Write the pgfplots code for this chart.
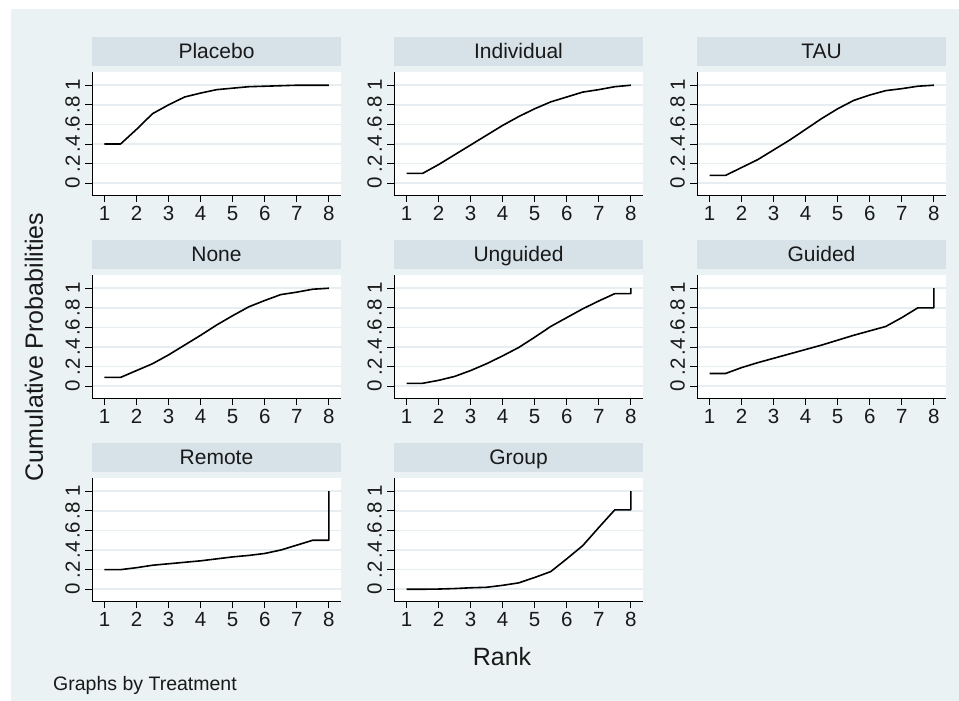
\documentclass[border=0pt]{standalone}
\usepackage{fontspec}
\setmainfont{Liberation Sans}
\usepackage{pgfplots}
\pgfplotsset{compat=1.18}
\definecolor{bgc}{RGB}{234,242,243}
\definecolor{barc}{RGB}{214,226,232}
\definecolor{gridc}{RGB}{230,238,241}
\pgfplotsset{panel/.style={
  scale only axis, width=249bp, height=123bp,
  xmin=0.61, xmax=8.38, ymin=-0.12, ymax=1.135,
  axis x line=bottom, axis y line=left,
  axis line style={-, black, line width=1bp},
  axis background/.style={fill=white},
  tick align=outside, major tick length=7bp,
  tick style={black, line width=1bp},
  xtick={1,2,3,4,5,6,7,8},
  ytick={0,0.2,0.4,0.6,0.8,1}, yticklabels={0,.2,.4,.6,.8,1},
  ymajorgrids, grid style={gridc, line width=1.6bp},
  /pgf/number format/assume math mode=true,
  tick label style={font=\fontsize{20.5bp}{24bp}\selectfont, text=black!90},
  yticklabel style={rotate=90, anchor=south, inner xsep=0bp, inner ysep=5bp},
  xticklabel style={anchor=north, inner xsep=0bp, inner ysep=4bp},
  title style={at={(0.5,1)}, anchor=south, fill=barc, minimum width=249bp,
    minimum height=29bp, inner sep=0pt, text height=15bp, text depth=0pt,
    font=\fontsize{21bp}{25bp}\selectfont, text=black!90},
  anchor=north west,
  cycle list={{black, no marks}},
  every axis plot/.append style={line width=1.6bp, line join=round},
}}
\begin{document}
\begin{tikzpicture}
\fill[white] (0bp,0bp) rectangle (959bp,-701bp);
\fill[bgc] (11bp,-9bp) rectangle (959bp,-701bp);
% Row 1
\begin{axis}[panel, at={(92bp,-72bp)}, title={Placebo}]
\addplot coordinates {(1,0.40) (1.5,0.40) (2,0.55) (2.5,0.71) (3,0.80) (3.5,0.88) (4,0.92) (4.5,0.955) (5,0.97) (5.5,0.985) (6,0.99) (6.5,0.995) (7,1) (7.5,1) (8,1)};
\end{axis}
\begin{axis}[panel, at={(394bp,-72bp)}, title={Individual}]
\addplot coordinates {(1,0.10) (1.5,0.10) (2,0.19) (2.5,0.29) (3,0.39) (3.5,0.49) (4,0.59) (4.5,0.68) (5,0.76) (5.5,0.83) (6,0.88) (6.5,0.93) (7,0.955) (7.5,0.985) (8,1.0)};
\end{axis}
\begin{axis}[panel, at={(697bp,-72bp)}, title={TAU}]
\addplot coordinates {(1,0.08) (1.5,0.08) (2,0.16) (2.5,0.24) (3,0.34) (3.5,0.44) (4,0.55) (4.5,0.66) (5,0.76) (5.5,0.845) (6,0.90) (6.5,0.945) (7,0.965) (7.5,0.99) (8,1)};
\end{axis}
% Row 2
\begin{axis}[panel, at={(92bp,-275bp)}, title={None}]
\addplot coordinates {(1,0.09) (1.5,0.09) (2,0.16) (2.5,0.23) (3,0.32) (3.5,0.42) (4,0.52) (4.5,0.625) (5,0.72) (5.5,0.81) (6,0.875) (6.5,0.935) (7,0.96) (7.5,0.99) (8,1)};
\end{axis}
\begin{axis}[panel, at={(394bp,-275bp)}, title={Unguided}]
\addplot coordinates {(1,0.03) (1.5,0.03) (2,0.06) (2.5,0.10) (3,0.16) (3.5,0.23) (4,0.31) (4.5,0.395) (5,0.50) (5.5,0.61) (6,0.70) (6.5,0.79) (7,0.87) (7.5,0.945) (8,0.945) (8,1)};
\end{axis}
\begin{axis}[panel, at={(697bp,-275bp)}, title={Guided}]
\addplot coordinates {(1,0.13) (1.5,0.13) (2,0.19) (2.5,0.24) (3,0.285) (3.5,0.33) (4,0.375) (4.5,0.42) (5,0.47) (5.5,0.52) (6,0.565) (6.5,0.61) (7,0.70) (7.5,0.80) (8,0.80) (8,1)};
\end{axis}
% Row 3
\begin{axis}[panel, at={(92bp,-478bp)}, title={Remote}]
\addplot coordinates {(1,0.20) (1.5,0.20) (2,0.22) (2.5,0.245) (3,0.26) (3.5,0.275) (4,0.29) (4.5,0.31) (5,0.33) (5.5,0.345) (6,0.365) (6.5,0.40) (7,0.45) (7.5,0.50) (8,0.50) (8,1)};
\end{axis}
\begin{axis}[panel, at={(394bp,-478bp)}, title={Group}]
\addplot coordinates {(1,0) (1.5,0) (2,0.002) (2.5,0.007) (3,0.015) (3.5,0.02) (4,0.04) (4.5,0.065) (5,0.12) (5.5,0.18) (6,0.31) (6.5,0.445) (7,0.63) (7.5,0.81) (8,0.81) (8,1)};
\end{axis}
% Labels
\node[rotate=90, text=black!90, font=\fontsize{25bp}{29bp}\selectfont] at (34bp,-347bp) {Cumulative Probabilities};
\node[text=black!90, font=\fontsize{25bp}{29bp}\selectfont, anchor=base] at (502bp,-665bp) {Rank};
\node[text=black!90, font=\fontsize{19.5bp}{23bp}\selectfont, anchor=base west, inner sep=0pt] at (53bp,-690bp) {Graphs by Treatment};
\end{tikzpicture}
\end{document}
